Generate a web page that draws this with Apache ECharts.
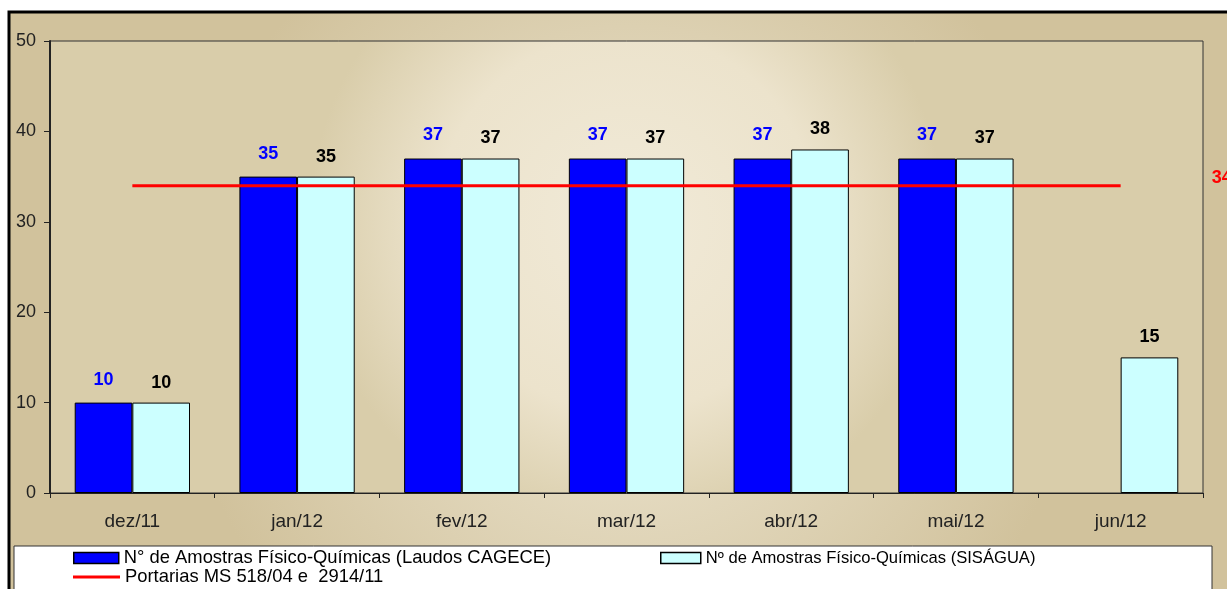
<!DOCTYPE html>
<html>
<head>
<meta charset="utf-8">
<script src="https://cdn.jsdelivr.net/npm/echarts@6/dist/echarts.min.js"></script>
<style>html,body{margin:0;padding:0;background:#fff;}#c{width:1227px;height:589px;}</style>
</head>
<body>
<div id="c"></div>
<script>
const categories = ['dez/11','jan/12','fev/12','mar/12','abr/12','mai/12','jun/12'];
const cagece = [10, 35, 37, 37, 37, 37, null];
const sisagua = [10, 35, 37, 37, 38, 37, 15];
const portaria = [34, 34, 34, 34, 34, 34, 34];
const yTicks = {min: 0, max: 50, interval: 10};
const names = ['N° de Amostras Físico-Químicas (Laudos CAGECE)', 'Nº de Amostras Físico-Químicas (SISÁGUA)', 'Portarias MS 518/04 e  2914/11'];

const chart = echarts.init(document.getElementById('c'), null, {renderer: 'canvas'});
const font = 'Liberation Sans, Arial, sans-serif';
const legText = (fs) => ({fontSize: fs, color: '#000', fontFamily: font, lineHeight: 18});
chart.setOption({
  animation: false,
  textStyle: {fontFamily: font},
  graphic: [
    {type: 'rect', z: -10, shape: {x: 9, y: 12, width: 1240, height: 600},
     style: {fill: {type: 'radial', x: 0.5, y: 0.5, r: 0.75, colorStops: [{offset: 0, color: '#efe8d5'}, {offset: 1, color: '#d1c29c'}]},
             stroke: '#000', lineWidth: 3}},
    {type: 'rect', z: -5, shape: {x: 14, y: 546, width: 1198, height: 60},
     style: {fill: '#fff', stroke: '#333', lineWidth: 1}}
  ],
  grid: {left: 50, top: 41, right: 24, bottom: 96, show: true, borderColor: '#333', borderWidth: 1,
         backgroundColor: {type: 'radial', x: 0.5, y: 0.4, r: 0.7, colorStops: [{offset: 0, color: '#f1ead8'}, {offset: 0.6, color: '#ece3cc'}, {offset: 1, color: '#d9cdaa'}]}},
  legend: [
    {data: [{name: names[0], icon: 'rect'}], left: 73, top: 549, itemWidth: 45, itemHeight: 11, itemGap: 6, padding: 0,
     itemStyle: {borderColor: '#000', borderWidth: 1.5}, textStyle: legText(18.4)},
    {data: [{name: names[1], icon: 'rect'}], left: 660, top: 549, itemWidth: 40, itemHeight: 11, itemGap: 5, padding: 0,
     itemStyle: {borderColor: '#000', borderWidth: 1.5}, textStyle: legText(16.6)},
    {data: [{name: names[2], icon: 'rect'}], left: 73, top: 568, itemWidth: 47, itemHeight: 3, padding: 0,
     itemStyle: {borderWidth: 0}, textStyle: legText(18.4)}
  ],
  xAxis: {
    type: 'category', data: categories, boundaryGap: true,
    axisLine: {lineStyle: {color: '#222', width: 1}},
    axisTick: {show: true, length: 5, inside: false, lineStyle: {color: '#222'}},
    axisLabel: {fontSize: 19, color: '#222', margin: 19, fontFamily: font}
  },
  yAxis: {
    type: 'value', min: yTicks.min, max: yTicks.max, interval: yTicks.interval,
    splitLine: {show: false},
    axisLine: {show: true, lineStyle: {color: '#222', width: 2}},
    axisTick: {show: true, length: 6, lineStyle: {color: '#222'}},
    axisLabel: {fontSize: 18, color: '#222', margin: 14, fontFamily: font}
  },
  series: [
    {name: names[0], type: 'bar', data: cagece, barGap: '0%', barCategoryGap: '30%',
     itemStyle: {color: '#0000ff', borderColor: '#000', borderWidth: 1},
     label: {show: true, position: 'top', distance: 14, color: '#0000ff', fontWeight: 'bold', fontSize: 18, fontFamily: font}},
    {name: names[1], type: 'bar', data: sisagua,
     itemStyle: {color: '#ccffff', borderColor: '#000', borderWidth: 1},
     label: {show: true, position: 'top', distance: 11, color: '#000', fontWeight: 'bold', fontSize: 18, fontFamily: font}},
    {name: names[2], type: 'line', data: portaria, symbol: 'none', z: 5,
     lineStyle: {color: '#ff0000', width: 3}, itemStyle: {color: '#ff0000'},
     endLabel: {show: true, formatter: '{c}', distance: 91, color: '#ff0000', fontWeight: 'bold', fontSize: 18, fontFamily: font, offset: [0, -8]}}
  ]
});
</script>
</body>
</html>
